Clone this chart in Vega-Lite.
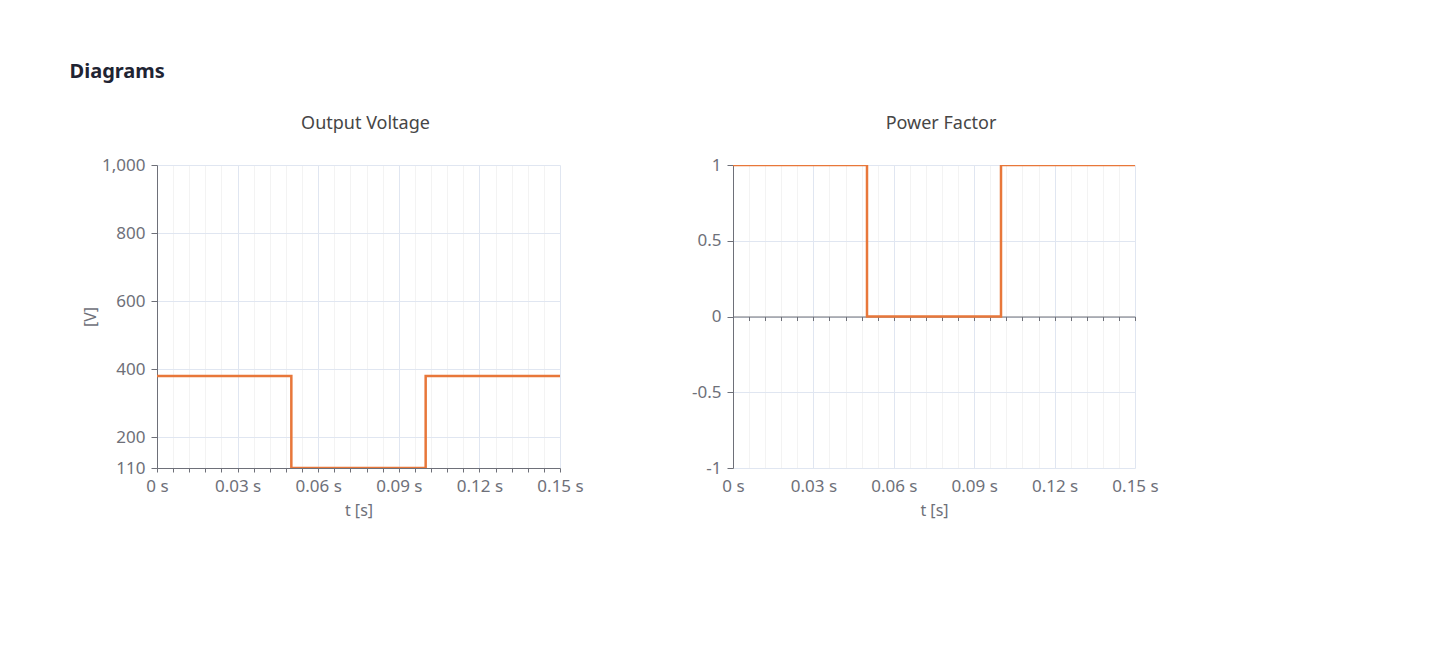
{
  "$schema": "https://vega.github.io/schema/vega-lite/v6.json",
  "background": "#ffffff",
  "padding": {"left": 69, "top": 62, "right": 10, "bottom": 10},
  "title": {"text": "Diagrams", "anchor": "start", "font": "Noto Sans", "fontSize": 20, "fontWeight": "bold", "color": "#1f2433", "offset": 33, "dx": -13},
  "config": {
    "font": "Noto Sans",
    "view": {"stroke": null},
    "axis": {
      "labelFont": "Noto Sans", "labelFontSize": 17, "labelColor": "#6e7079",
      "titleFont": "Noto Sans", "titleFontSize": 16, "titleColor": "#6e7079", "titleFontWeight": "normal",
      "domainColor": "#6e7079", "tickColor": "#6e7079", "gridColor": "#e0e6f1",
      "labelFlush": false, "labelOverlap": false
    },
    "title": {"font": "Noto Sans", "fontSize": 18, "fontWeight": "normal", "color": "#464646"}
  },
  "data": {"values": [
    {"t": 0, "v": 380, "pf": 1},
    {"t": 0.05, "v": 110, "pf": 0},
    {"t": 0.1, "v": 380, "pf": 1},
    {"t": 0.15, "v": 380, "pf": 1}
  ]},
  "spacing": 107,
  "hconcat": [
    {
      "width": 403, "height": 303,
      "title": {"text": "Output Voltage", "offset": 23, "dx": 7},
      "layer": [
        {
          "mark": {"type": "line", "interpolate": "step-after", "color": "#e8773a", "strokeWidth": 2.5, "clip": true},
          "encoding": {
            "x": {"field": "t", "type": "quantitative", "scale": {"domain": [0, 0.15], "nice": false, "zero": false},
              "axis": {"orient": "bottom", "title": "t [s]", "titlePadding": 8, "values": [0, 0.03, 0.06, 0.09, 0.12, 0.15], "labelExpr": "format(datum.value, '~g') + ' s'", "tickSize": 4, "labelPadding": 6, "grid": true, "domain": true}},
            "y": {"field": "v", "type": "quantitative", "scale": {"domain": [110, 1000], "nice": false, "zero": false},
              "axis": {"title": "[V]", "titlePadding": 3, "values": [110, 200, 400, 600, 800, 1000], "labelExpr": "format(datum.value, ',.0f')", "tickSize": 6, "labelPadding": 6, "grid": true, "domain": true}}
          }
        },
        {
          "mark": {"type": "line", "strokeOpacity": 0},
          "encoding": {
            "x": {"field": "t", "type": "quantitative",
              "axis": {"orient": "bottom", "title": null, "labels": false, "domain": false, "tickSize": 4, "grid": true, "gridColor": "#f3f3f3",
                "values": [0.006, 0.012, 0.018, 0.024, 0.036, 0.042, 0.048, 0.054, 0.066, 0.072, 0.078, 0.084, 0.096, 0.102, 0.108, 0.114, 0.126, 0.132, 0.138, 0.144]}},
            "y": {"field": "v", "type": "quantitative"}
          }
        }
      ],
      "resolve": {"axis": {"x": "independent"}}
    },
    {
      "width": 402, "height": 303,
      "title": {"text": "Power Factor", "offset": 23, "dx": 7},
      "layer": [
        {
          "mark": {"type": "line", "interpolate": "step-after", "color": "#e8773a", "strokeWidth": 2.5, "clip": true},
          "encoding": {
            "x": {"field": "t", "type": "quantitative", "scale": {"domain": [0, 0.15], "nice": false, "zero": false},
              "axis": {"orient": "bottom", "title": "t [s]", "titlePadding": 8, "values": [0, 0.03, 0.06, 0.09, 0.12, 0.15], "labelExpr": "format(datum.value, '~g') + ' s'", "ticks": false, "labelPadding": 10, "grid": true, "domain": false}},
            "y": {"field": "pf", "type": "quantitative", "scale": {"domain": [-1, 1], "nice": false, "zero": false},
              "axis": {"title": null, "values": [-1, -0.5, 0, 0.5, 1], "labelExpr": "'' + datum.value", "tickSize": 6, "labelPadding": 6, "grid": true, "domain": true}}
          }
        },
        {
          "mark": {"type": "line", "strokeOpacity": 0},
          "encoding": {
            "x": {"field": "t", "type": "quantitative",
              "axis": {"orient": "bottom", "title": null, "labels": false, "domain": false, "ticks": false, "grid": true, "gridColor": "#f3f3f3",
                "values": [0.006, 0.012, 0.018, 0.024, 0.036, 0.042, 0.048, 0.054, 0.066, 0.072, 0.078, 0.084, 0.096, 0.102, 0.108, 0.114, 0.126, 0.132, 0.138, 0.144]}},
            "y": {"field": "pf", "type": "quantitative"}
          }
        },
        {
          "mark": {"type": "line", "strokeOpacity": 0},
          "encoding": {
            "x": {"field": "t", "type": "quantitative",
              "axis": {"orient": "bottom", "offset": -151.5, "title": null, "labels": false, "domain": true, "tickSize": 4, "grid": false,
                "values": [0, 0.006, 0.012, 0.018, 0.024, 0.03, 0.036, 0.042, 0.048, 0.054, 0.06, 0.066, 0.072, 0.078, 0.084, 0.09, 0.096, 0.102, 0.108, 0.114, 0.12, 0.126, 0.132, 0.138, 0.144, 0.15]}},
            "y": {"field": "pf", "type": "quantitative"}
          }
        }
      ],
      "resolve": {"axis": {"x": "independent"}}
    }
  ]
}
